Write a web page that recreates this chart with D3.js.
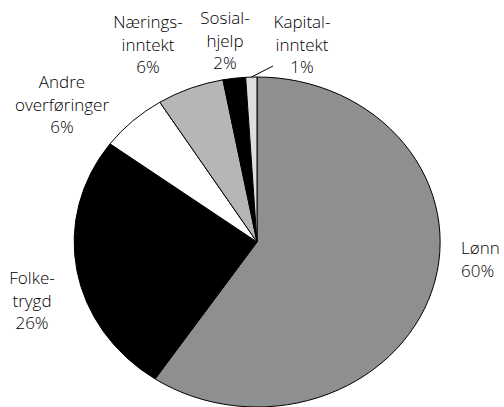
<!DOCTYPE html>
<html><head><meta charset="utf-8">
<script src="https://cdn.jsdelivr.net/npm/d3@7"></script>
<style>body{margin:0;background:#fff}svg{display:block}text{font-family:"Open Sans",sans-serif;font-weight:300;font-size:17px;fill:#000}</style>
</head><body><svg width="504" height="407"></svg>
<script>
const categories = ["Lønn","Folketrygd","Andre overføringer","Næringsinntekt","Sosialhjelp","Kapitalinntekt"];
const values = [60,26,6,6,2,1];
const colors = ["#8e8f91","#000000","#ffffff","#b6b6b6","#000000","#dedede"];
const labelLines = [["Lønn","60%"],["Folke-","trygd","26%"],["Andre","overføringer","6%"],["Nærings-","inntekt","6%"],["Sosial-","hjelp","2%"],["Kapital-","inntekt","1%"]];
const labelPos = [[461,254,"start"],[32,284,"middle"],[62,88,"middle"],[148,28,"middle"],[225,24,"middle"],[302,28,"middle"]];

const svg = d3.select("svg");
const cx = 257, cy = 242, rx = 183, ry = 165;
const pie = d3.pie().sort(null).value(d=>d);
const arcs = pie(values);
const arc = d3.arc().innerRadius(0).outerRadius(1);
const g = svg.append("g").attr("transform",`translate(${cx},${cy}) scale(${rx},${ry})`);
g.selectAll("path").data(arcs).join("path")
  .attr("d",arc).attr("fill",(d,i)=>colors[i])
  .attr("stroke","#000").attr("stroke-width",1).attr("vector-effect","non-scaling-stroke");

const lh = 22.5;
labelLines.forEach((lines,i)=>{
  const [x,y,anchor]=labelPos[i];
  const t = svg.append("text").attr("x",x).attr("y",y).attr("text-anchor",anchor);
  lines.forEach((s,j)=>t.append("tspan").attr("x",x).attr("y",y+j*lh).text(s));
});
// leader line for Kapitalinntekt
const a5 = arcs[5], mid = (a5.startAngle+a5.endAngle)/2;
const px = cx + rx*Math.sin(mid), py = cy - ry*Math.cos(mid);
svg.append("line").attr("x1",px).attr("y1",py).attr("x2",273).attr("y2",66).attr("stroke","#000").attr("stroke-width",1);
</script></body></html>
